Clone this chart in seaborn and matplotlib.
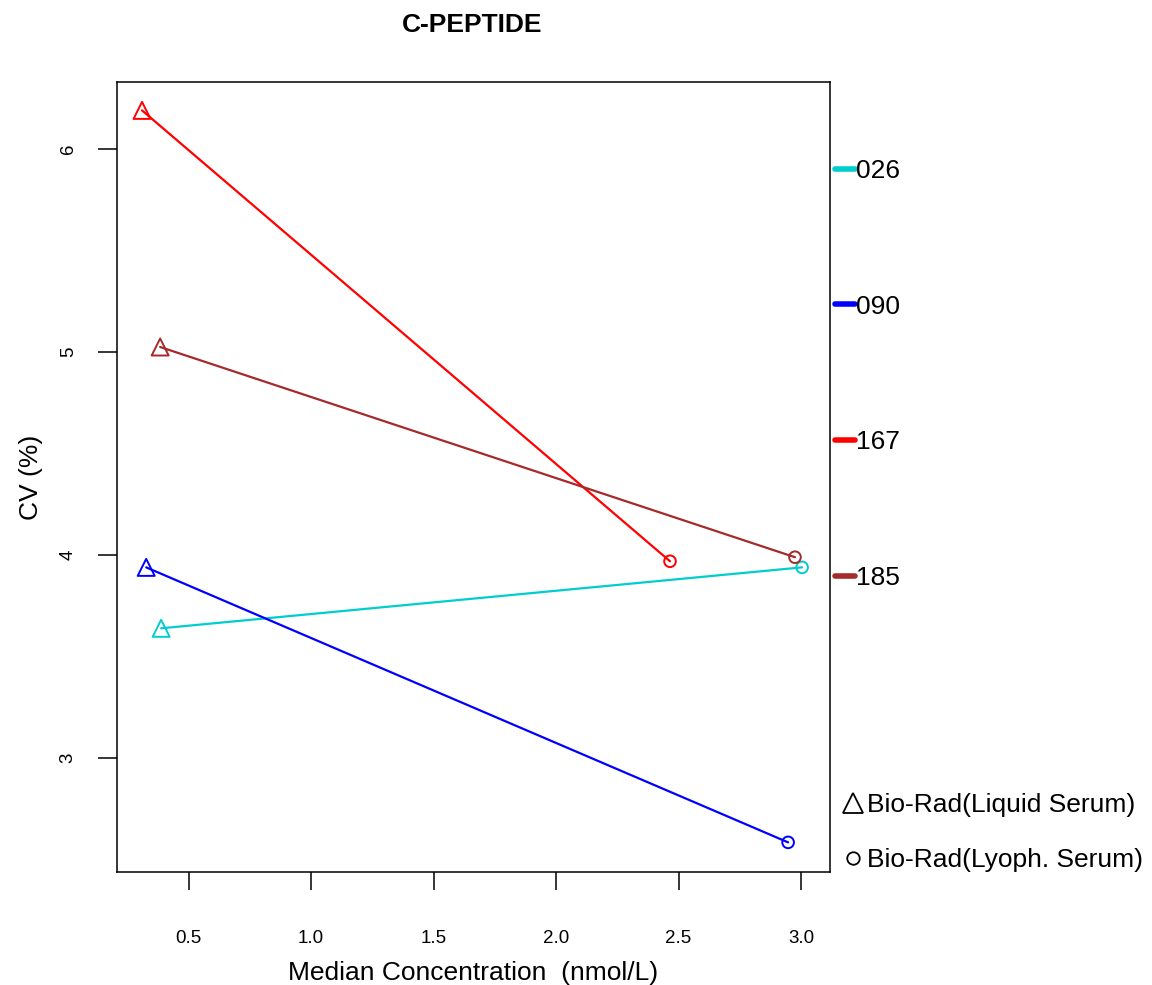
import matplotlib
matplotlib.use("Agg")
import matplotlib.pyplot as plt
import seaborn as sns
import pandas as pd
from matplotlib.lines import Line2D

# ---- data ----
lots = ["026", "090", "167", "185"]
colors = ["#00CDCD", "#0000FF", "#FF0000", "#A52A2A"]
liquid_conc = [0.388, 0.327, 0.31, 0.384]
liquid_cv = [3.64, 3.94, 6.19, 5.025]
lyoph_conc = [3.004, 2.947, 2.465, 2.975]
lyoph_cv = [3.94, 2.586, 3.97, 3.99]
material_labels = ["Bio-Rad(Liquid Serum)", "Bio-Rad(Lyoph. Serum)"]
xticks = [0.5, 1.0, 1.5, 2.0, 2.5, 3.0]
yticks = [3, 4, 5, 6]

rows = []
for i, lot in enumerate(lots):
    rows.append({"lot": lot, "material": "Liquid", "conc": liquid_conc[i], "cv": liquid_cv[i]})
    rows.append({"lot": lot, "material": "Lyoph", "conc": lyoph_conc[i], "cv": lyoph_cv[i]})
df = pd.DataFrame(rows)

sns.set_style("ticks")
plt.rcParams["font.family"] = ["Liberation Sans", "DejaVu Sans"]
plt.rcParams["text.color"] = "black"
plt.rcParams["axes.labelcolor"] = "black"

fig = plt.figure(figsize=(11.52, 9.85), dpi=100)
ax = fig.add_axes([0.1016, 0.1147, 0.6189, 0.8021])

palette = dict(zip(lots, colors))
sns.lineplot(data=df, x="conc", y="cv", hue="lot", palette=palette, sort=False,
             legend=False, linewidth=1.6, ax=ax, estimator=None, units="lot")

markers = {"Liquid": "^", "Lyoph": "o"}
sizes = {"Liquid": 150, "Lyoph": 70}
for lot in lots:
    for mat in ["Liquid", "Lyoph"]:
        sub = df[(df.lot == lot) & (df.material == mat)]
        sns.scatterplot(data=sub, x="conc", y="cv", marker=markers[mat], s=sizes[mat],
                        facecolor="none", edgecolor=palette[lot], linewidth=1.4,
                        legend=False, ax=ax, zorder=3)

ax.set_xlim(0.208, 3.118)
ax.set_ylim(2.44, 6.33)
ax.set_xticks(xticks)
ax.set_xticklabels([f"{v:.1f}" for v in xticks])
ax.set_yticks(yticks)
ax.set_yticklabels([str(v) for v in yticks], rotation=90, va="center")
ax.tick_params(axis="x", length=13, width=1.1, pad=29, labelsize=13.5, colors="black")
ax.tick_params(axis="y", length=14, width=1.1, pad=15, labelsize=13.5, colors="black")
for sp in ax.spines.values():
    sp.set_visible(True)
    sp.set_color("black")
    sp.set_linewidth(1.1)

ax.set_xlabel("Median Concentration  (nmol/L)", fontsize=19, labelpad=10)
ax.set_ylabel("CV (%)", fontsize=19, labelpad=12)
fig.text(472 / 1152, 1 - 25 / 985, "C-PEPTIDE", ha="center", va="center",
         fontsize=19, fontweight="bold")

# lot legend
lot_handles = [Line2D([0], [0], color=c, lw=4, solid_capstyle="round") for c in colors]
leg1 = fig.legend(lot_handles, lots, loc="upper left",
                  bbox_to_anchor=(835 / 1152, 1 - 159 / 985),
                  frameon=False, fontsize=19, handlelength=0.75, handletextpad=0.05,
                  labelspacing=4.23, borderpad=0, borderaxespad=0)

mat_handles = [Line2D([0], [0], marker="^", color="black", markerfacecolor="none",
                      markersize=14, lw=0, markeredgewidth=1.3),
               Line2D([0], [0], marker="o", color="black", markerfacecolor="none",
                      markersize=9, lw=0, markeredgewidth=1.3)]
leg2 = fig.legend(mat_handles, material_labels, loc="upper left",
                  bbox_to_anchor=(842 / 1152, 1 - 793 / 985),
                  frameon=False, fontsize=19, handlelength=0.8, handletextpad=0.15,
                  labelspacing=1.17, borderpad=0, borderaxespad=0)

fig.savefig("out.png", dpi=100, facecolor="white")
